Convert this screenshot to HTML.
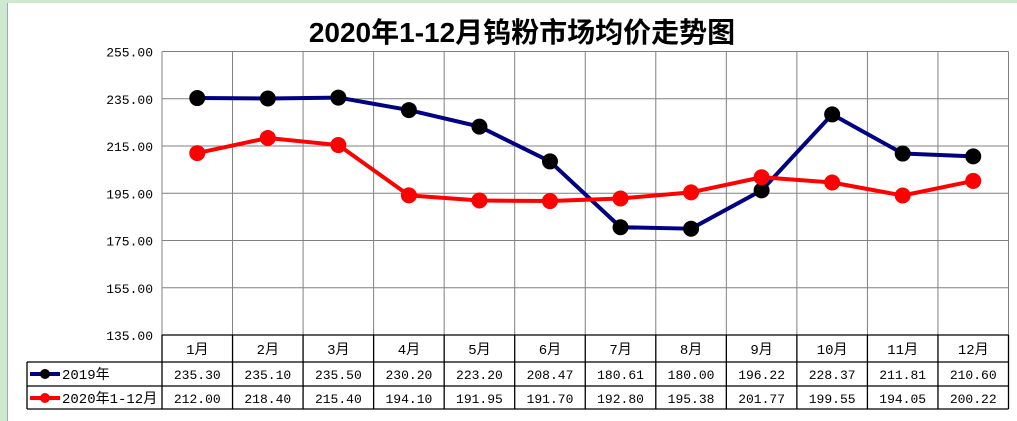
<!DOCTYPE html>
<html><head><meta charset="utf-8"><style>
body{margin:0;width:1017px;height:421px;background:#cfe8d0;overflow:hidden;position:relative;font-family:"Liberation Sans","Noto Sans CJK SC",sans-serif}
#chart{position:absolute;left:7px;top:3px;width:1010px;height:418px;background:#fff;border-left:1px solid #9ab}
</style></head><body>
<div id="chart"></div>
<svg id="svg" width="1017" height="421" style="position:absolute;left:0;top:0"></svg>
<script>
const categories=["1月","2月","3月","4月","5月","6月","7月","8月","9月","10月","11月","12月"];
const series2019=[235.30,235.10,235.50,230.20,223.20,208.47,180.61,180.00,196.22,228.37,211.81,210.60];
const series2020=[212.00,218.40,215.40,194.10,191.95,191.70,192.80,195.38,201.77,199.55,194.05,200.22];
const yTicks=[135,155,175,195,215,235,255];
const seriesNames=["2019年","2020年1-12月"];
const L=162,R=1008.5,T=51.5,B=335,yMin=135,yMax=255;
const cw=(R-L)/categories.length;
const xs=i=>L+cw*(i+0.5);
const ys=v=>B-(v-yMin)/(yMax-yMin)*(B-T);
const svg=document.getElementById('svg');const NS="http://www.w3.org/2000/svg";
function mk(t,a,txt){const e=document.createElementNS(NS,t);for(const k in a)e.setAttribute(k,a[k]);if(txt!=null)e.textContent=txt;svg.appendChild(e);return e;}
const mono='"Liberation Mono","Noto Sans CJK SC",monospace';
let t=mk('text',{x:522,y:42,'text-anchor':'middle','font-size':28,'font-weight':'bold','font-family':'"Liberation Sans","Noto Sans CJK SC",sans-serif'},'2020年1-12月钨粉市场均价走势图');


yTicks.forEach(v=>{
 const g=mk('line',{x1:L,x2:R,y1:ys(v),y2:ys(v),stroke:'#808080','stroke-width':1});
 
 
 const l=mk('text',{x:153,y:ys(v)+5,'text-anchor':'end','font-size':13,'font-family':mono},v.toFixed(2));
 
 
});
for(let i=0;i<=categories.length;i++){
 const g=mk('line',{x1:L+cw*i,x2:L+cw*i,y1:T,y2:B,stroke:'#808080','stroke-width':1});
 
 
}
const tl=27;
[[L,B],[tl,362],[tl,386],[tl,409]].forEach(([x0,y])=>{const l=mk('line',{x1:x0,x2:R,y1:y,y2:y,stroke:'#000','stroke-width':1.3});
 
 });
let vl=mk('line',{x1:tl,x2:tl,y1:362,y2:409,stroke:'#000','stroke-width':1.3});


for(let i=0;i<=categories.length;i++){const l=mk('line',{x1:L+cw*i,x2:L+cw*i,y1:B,y2:409,stroke:'#000','stroke-width':1.3});
 
 }
categories.forEach((c,i)=>{
 const a=mk('text',{x:xs(i),y:354,'text-anchor':'middle','font-size':14,'font-family':mono},c);
 
 
 const b=mk('text',{x:xs(i),y:379,'text-anchor':'middle','font-size':13,'font-family':mono},series2019[i].toFixed(2));
 
 
 const d=mk('text',{x:xs(i),y:403,'text-anchor':'middle','font-size':13,'font-family':mono},series2020[i].toFixed(2));
 
 
});
[[series2019,'#000080','#000',374],[series2020,'#ff0000','#ff0000',398]].forEach(([s,c,m,ly],k)=>{
 const p=mk('polyline',{points:s.map((v,i)=>xs(i)+','+ys(v)).join(' '),fill:'none',stroke:c,'stroke-width':4,'stroke-linejoin':'round'});
 
 
 s.forEach((v,i)=>{const q=mk('circle',{cx:xs(i),cy:ys(v),r:8,fill:m});
  
  });
 const ll=mk('line',{x1:30,x2:60,y1:ly,y2:ly,stroke:c,'stroke-width':4});
 
 
 const lc=mk('circle',{cx:45,cy:ly,r:5,fill:m});
 
 
 const lt=mk('text',{x:62,y:ly+5,'font-size':14,'font-family':mono},seriesNames[k]);
 
 
});
</script>
</body></html>
